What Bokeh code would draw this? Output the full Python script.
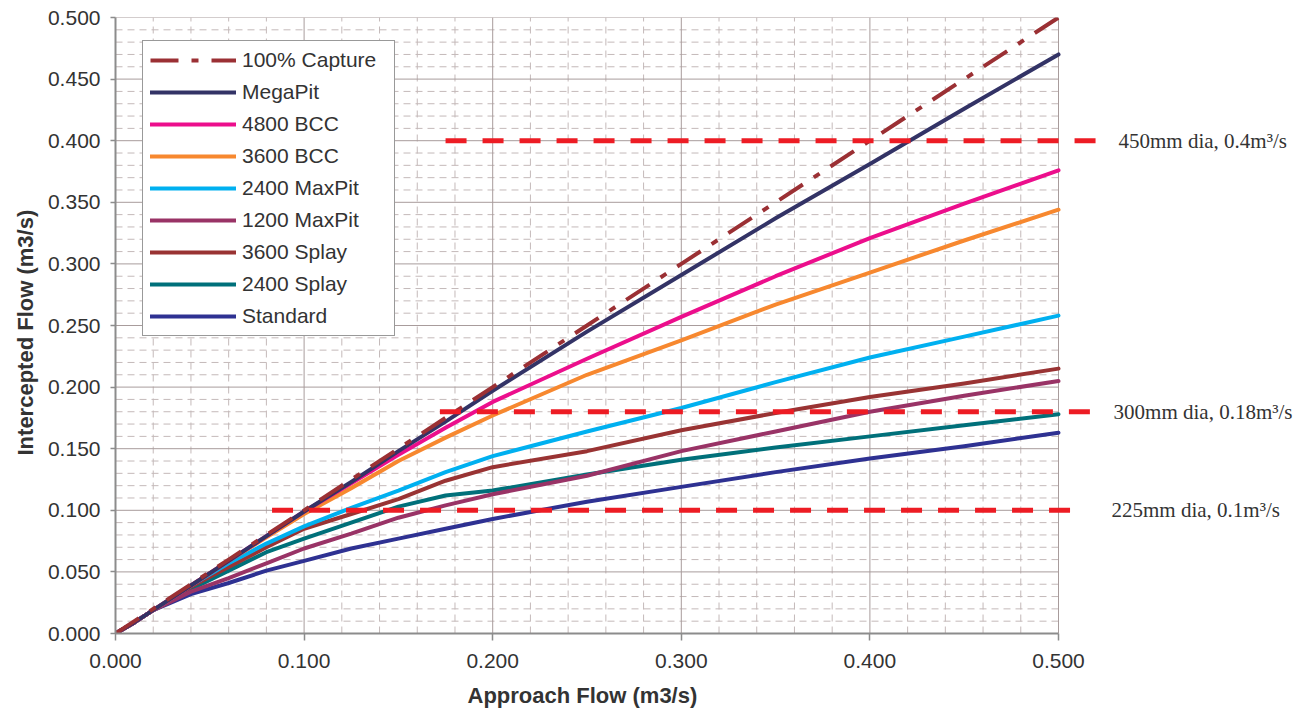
from bokeh.plotting import figure
from bokeh.models import Range1d, FixedTicker, PrintfTickFormatter, Legend, LegendItem, Title
from bokeh.embed import file_html
from bokeh.resources import INLINE
from bokeh.core.properties import value

# ---------------- data ----------------
approach = [0, 0.01, 0.02, 0.04, 0.06, 0.08, 0.10, 0.125, 0.15, 0.175, 0.20, 0.25, 0.30, 0.35, 0.40, 0.45, 0.50]
capture_100 = [0, 0.01, 0.02, 0.04, 0.06, 0.08, 0.10, 0.125, 0.15, 0.175, 0.20, 0.25, 0.30, 0.35, 0.40, 0.45, 0.50]
megapit = [0, 0.009, 0.019, 0.039, 0.059, 0.079, 0.099, 0.123, 0.148, 0.172, 0.197, 0.245, 0.291, 0.337, 0.381, 0.426, 0.470]
bcc_4800 = [0, 0.009, 0.019, 0.039, 0.059, 0.079, 0.099, 0.122, 0.145, 0.167, 0.188, 0.223, 0.257, 0.290, 0.321, 0.349, 0.376]
bcc_3600 = [0, 0.009, 0.019, 0.039, 0.059, 0.078, 0.097, 0.118, 0.140, 0.159, 0.177, 0.210, 0.238, 0.267, 0.293, 0.319, 0.344]
maxpit_2400 = [0, 0.009, 0.019, 0.039, 0.057, 0.073, 0.087, 0.102, 0.116, 0.131, 0.144, 0.164, 0.183, 0.204, 0.224, 0.241, 0.258]
maxpit_1200 = [0, 0.009, 0.019, 0.034, 0.045, 0.057, 0.069, 0.081, 0.094, 0.104, 0.113, 0.128, 0.148, 0.164, 0.180, 0.193, 0.205]
splay_3600 = [0, 0.009, 0.019, 0.038, 0.054, 0.070, 0.085, 0.097, 0.109, 0.124, 0.135, 0.148, 0.165, 0.179, 0.192, 0.203, 0.215]
splay_2400 = [0, 0.009, 0.019, 0.036, 0.051, 0.066, 0.077, 0.090, 0.103, 0.112, 0.116, 0.129, 0.141, 0.151, 0.160, 0.169, 0.178]
standard = [0, 0.009, 0.019, 0.032, 0.041, 0.051, 0.059, 0.069, 0.077, 0.085, 0.093, 0.107, 0.119, 0.131, 0.142, 0.152, 0.163]

series_names = ["100% Capture", "MegaPit", "4800 BCC", "3600 BCC", "2400 MaxPit",
                "1200 MaxPit", "3600 Splay", "2400 Splay", "Standard"]
series_values = [capture_100, megapit, bcc_4800, bcc_3600, maxpit_2400,
                 maxpit_1200, splay_3600, splay_2400, standard]
series_colors = ["#9B3034", "#333366", "#EC0E8C", "#F7882F", "#00B0F0",
                 "#993366", "#993333", "#00707A", "#2E3192"]

pipe_capacity = [0.4, 0.18, 0.1]
pipe_start = [0.175, 0.172, 0.083]
pipe_end = [0.52, 0.522, 0.511]
pipe_labels = ["450mm dia, 0.4m\u00b3/s", "300mm dia, 0.18m\u00b3/s", "225mm dia, 0.1m\u00b3/s"]
pipe_label_x = [0.5318, 0.5292, 0.5281]

x_ticks = [0.0, 0.1, 0.2, 0.3, 0.4, 0.5]
y_ticks = [0.0, 0.05, 0.10, 0.15, 0.20, 0.25, 0.30, 0.35, 0.40, 0.45, 0.50]
x_title = "Approach Flow (m3/s)"
y_title = "Intercepted Flow (m3/s)"

# ---------------- figure ----------------
W, H = 1310, 719
LEFT, TOP, BOTTOM = 115, 17, 86
p = figure(width=W, height=H, output_backend="svg", toolbar_location=None,
           x_range=Range1d(0, 0.5 * (W - LEFT) / 943.0), y_range=Range1d(0, 0.5),
           min_border_left=LEFT, min_border_right=0, min_border_top=TOP, min_border_bottom=BOTTOM,
           background_fill_color="white", border_fill_color="white")
p.outline_line_color = None
p.xgrid.grid_line_color = None
p.ygrid.grid_line_color = None

# grid (styling)
minor_x = [round(i * 0.02, 4) for i in range(1, 26) if i % 5 != 0]
minor_y = [round(i * 0.01, 4) for i in range(1, 50) if i % 5 != 0]
major_x = [round(i * 0.1, 4) for i in range(0, 6)]
major_y = [round(i * 0.05, 4) for i in range(0, 11)]
minor_col = "#C4B9B9"
major_col = "#A89C9C"
p.segment(x0=minor_x, x1=minor_x, y0=[0] * len(minor_x), y1=[0.5] * len(minor_x),
          line_color=minor_col, line_width=1, line_dash="7 5")
p.segment(x0=[0] * len(minor_y), x1=[0.5] * len(minor_y), y0=minor_y, y1=minor_y,
          line_color=minor_col, line_width=1, line_dash="7 5")
p.segment(x0=major_x, x1=major_x, y0=[0] * len(major_x), y1=[0.5] * len(major_x),
          line_color=major_col, line_width=1)
p.segment(x0=[0] * len(major_y), x1=[0.5] * len(major_y), y0=major_y, y1=major_y,
          line_color=major_col, line_width=1)

# curves
renderers = {}
for name, vals, col in reversed(list(zip(series_names, series_values, series_colors))):
    if name == "100% Capture":
        r = p.line(approach, vals, line_color=col, line_width=4, line_dash="28 13 7 13")
    else:
        r = p.line(approach, vals, line_color=col, line_width=4, line_cap="round", line_join="round")
    renderers[name] = r

# pipe capacity lines
p.segment(x0=pipe_start, x1=pipe_end, y0=pipe_capacity, y1=pipe_capacity,
          line_color="#ED1C24", line_width=5, line_dash="21 16")
p.text(x=pipe_label_x, y=pipe_capacity, text=pipe_labels,
       text_font=value("Liberation Serif"), text_font_size="21px",
       text_baseline="middle", text_align="left", text_color="#333333")

# axes
for ax in (p.xaxis[0], p.yaxis[0]):
    ax.major_label_text_font = "Liberation Sans"
    ax.major_label_text_font_size = "21px"
    ax.major_label_text_color = "#333333"
    ax.minor_tick_line_color = None
    ax.major_tick_in = 0
    ax.major_tick_line_color = "#8C8C8C"
    ax.major_tick_line_width = 1.5
    ax.axis_line_color = "#8C8C8C"
    ax.axis_line_width = 2

p.xaxis.ticker = FixedTicker(ticks=x_ticks)
p.yaxis.ticker = FixedTicker(ticks=y_ticks)
p.xaxis.formatter = PrintfTickFormatter(format="%.3f")
p.yaxis.formatter = PrintfTickFormatter(format="%.3f")
p.xaxis.bounds = (0, 0.5)
p.xaxis.major_tick_out = 7
p.xaxis.major_label_standoff = 13
p.yaxis.major_tick_out = 5
p.yaxis.major_label_standoff = 10

# axis titles (positioned over the 0..0.5 part of the frame)
xt = Title(text=x_title, align="left", offset=352, vertical_align="bottom", standoff=20,
           text_font="Liberation Sans", text_font_size="22px", text_font_style="bold",
           text_color="#333333")
p.add_layout(xt, "below")
yt = Title(text=y_title, align="left", offset=178, vertical_align="top", standoff=10,
           text_font="Liberation Sans", text_font_size="22px", text_font_style="bold",
           text_color="#333333")
p.add_layout(yt, "left")

# legend
items = [LegendItem(label=n, renderers=[renderers[n]]) for n in series_names]
legend = Legend(items=items, location=(27, 297), padding=7, spacing=8,
                glyph_width=86, glyph_height=24, label_height=24, label_width=145,
                label_standoff=6, margin=0,
                label_text_font="Liberation Sans", label_text_font_size="21px",
                label_text_color="#333333",
                border_line_color="#333333", border_line_width=1,
                background_fill_color="white", background_fill_alpha=1.0)
p.add_layout(legend, "center")

open("out.html", "w").write(file_html(p, INLINE))
